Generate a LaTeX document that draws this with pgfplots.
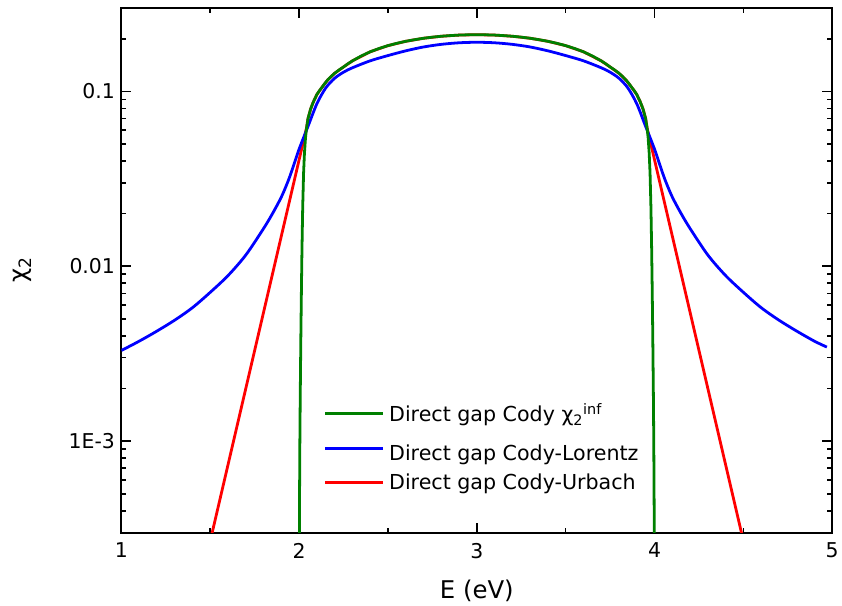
\documentclass[border=0pt]{standalone}
\usepackage{pgfplots}
\usepackage{pgfplotstable}
\pgfplotsset{compat=1.18}
\usepackage{fontspec}
\setmainfont{DejaVu Sans}

\definecolor{codygreen}{RGB}{0,128,0}
\definecolor{lorentzblue}{RGB}{0,0,255}
\definecolor{urbachred}{RGB}{255,0,0}

% Direct gap Cody chi_2 (infinite-lifetime), gap at 2 eV, cut-off at 4 eV
\pgfplotstableread{
E      chi
2.000  1e-6
2.001  0.00020
2.002  0.00042
2.004  0.00095
2.006  0.0017
2.008  0.0027
2.010  0.0042
2.013  0.0075
2.016  0.0125
2.020  0.0215
2.025  0.0340
2.030  0.0445
2.036  0.0545
2.042  0.0620
2.050  0.0700
2.065  0.0795
2.080  0.0870
2.100  0.0960
2.115  0.1012
2.130  0.1060
2.145  0.1112
2.160  0.1160
2.180  0.1217
2.200  0.1270
2.225  0.1327
2.250  0.1380
2.275  0.1440
2.300  0.1495
2.350  0.1595
2.400  0.1685
2.450  0.1760
2.500  0.1827
2.550  0.1884
2.600  0.1934
2.650  0.1976
2.700  0.2013
2.750  0.2043
2.800  0.2067
2.850  0.2085
2.900  0.2099
2.950  0.2107
3.000  0.2110
3.050  0.2107
3.100  0.2099
3.150  0.2085
3.200  0.2067
3.250  0.2043
3.300  0.2013
3.350  0.1976
3.400  0.1934
3.450  0.1884
3.500  0.1827
3.550  0.1760
3.600  0.1685
3.650  0.1595
3.700  0.1495
3.725  0.1440
3.750  0.1380
3.775  0.1327
3.800  0.1270
3.820  0.1217
3.840  0.1160
3.855  0.1112
3.870  0.1060
3.885  0.1012
3.900  0.0960
3.920  0.0870
3.935  0.0795
3.950  0.0700
3.958  0.0620
3.964  0.0545
3.970  0.0445
3.975  0.0340
3.980  0.0215
3.984  0.0125
3.987  0.0075
3.990  0.0042
3.992  0.0027
3.994  0.0017
3.996  0.00095
3.998  0.00042
3.999  0.00020
4.000  1e-6
}\codytable

% Direct gap Cody-Lorentz
\pgfplotstableread{
E      chi
1.00   0.00330
1.10   0.00373
1.20   0.00426
1.30   0.00492
1.40   0.00580
1.50   0.00710
1.60   0.00885
1.70   0.01160
1.80   0.01645
1.85   0.02000
1.90   0.02490
1.94   0.03110
1.97   0.03800
2.00   0.04680
2.05   0.06310
2.10   0.08510
2.15   0.10470
2.20   0.11890
2.25   0.12880
2.30   0.13650
2.40   0.14960
2.50   0.16030
2.60   0.17060
2.70   0.17950
2.80   0.18580
2.90   0.18970
3.00   0.19100
3.10   0.18970
3.20   0.18580
3.30   0.17950
3.40   0.17060
3.50   0.16030
3.60   0.14960
3.70   0.13650
3.75   0.12880
3.80   0.11890
3.85   0.10470
3.90   0.08510
3.95   0.06310
4.00   0.04680
4.03   0.03800
4.06   0.03110
4.10   0.02490
4.15   0.02000
4.20   0.01645
4.30   0.01160
4.40   0.00885
4.50   0.00710
4.60   0.00580
4.70   0.00492
4.80   0.00426
4.90   0.00373
4.97   0.00345
}\lorentztable

% Direct gap Cody-Urbach: exponential tails joined to the Cody curve
\pgfplotstableread{
E      chi
1.450  1.63e-4
2.042  0.0620
2.050  0.0700
2.065  0.0795
2.080  0.0870
2.100  0.0960
2.130  0.1060
2.160  0.1160
2.200  0.1270
2.250  0.1380
2.300  0.1495
2.400  0.1685
2.500  0.1827
2.600  0.1934
2.700  0.2013
2.800  0.2067
2.900  0.2099
3.000  0.2110
3.100  0.2099
3.200  0.2067
3.300  0.2013
3.400  0.1934
3.500  0.1827
3.600  0.1685
3.700  0.1495
3.750  0.1380
3.800  0.1270
3.840  0.1160
3.870  0.1060
3.900  0.0960
3.920  0.0870
3.935  0.0795
3.950  0.0700
3.958  0.0620
4.550  1.63e-4
}\urbachtable

\begin{document}
\begin{tikzpicture}
\begin{axis}[
  scale only axis,
  width=714pt, height=527pt,
  ymode=log,
  xmin=1, xmax=5, ymin=3e-4, ymax=0.3,
  xtick={1,2,3,4,5},
  minor x tick num=1,
  ytick={0.001,0.01,0.1},
  yticklabels={1E-3,0.01,0.1},
  minor ytick={3e-4,4e-4,5e-4,6e-4,7e-4,8e-4,9e-4,
               2e-3,3e-3,4e-3,5e-3,6e-3,7e-3,8e-3,9e-3,
               0.02,0.03,0.04,0.05,0.06,0.07,0.08,0.09,0.2,0.3},
  tick align=inside,
  major tick length=10pt,
  minor tick length=5pt,
  tick style={black, line width=1.6pt},
  axis line style={line width=2pt},
  /pgf/number format/assume math mode=true,
  ticklabel style={font=\fontsize{20.5}{24}\selectfont},
  xticklabel style={yshift=-7pt},
  yticklabel style={xshift=-3pt},
  xlabel={E (eV)},
  ylabel={χ\textsubscript{2}},
  label style={font=\fontsize{24.5}{28}\selectfont},
  xlabel style={at={(axis description cs:0.5,-0.112)}, anchor=center},
  ylabel style={at={(axis description cs:-0.1387,0.5)}, anchor=center},
  legend style={draw=none, fill=none,
    at={(axis description cs:0.28,0.254)}, anchor=north west,
    font=\fontsize{20.7}{24}\selectfont,
    row sep=8pt,
    nodes={inner xsep=5pt}},
  legend cell align=left,
  legend image code/.code={\draw[#1] (0pt,0pt) -- (58pt,0pt);},
  reverse legend,
]
\addplot[urbachred, line width=2.8pt] table[x=E, y=chi] {\urbachtable};
\addlegendentry{Direct gap Cody-Urbach}
\addplot[lorentzblue, line width=2.8pt, smooth] table[x=E, y=chi] {\lorentztable};
\addlegendentry{\rule{0pt}{25pt}Direct gap Cody-Lorentz}
\addplot[codygreen, line width=2.8pt] table[x=E, y=chi] {\codytable};
\addlegendentry{Direct gap Cody χ\textsubscript{2}\textsuperscript{inf}}
\end{axis}
\path ([shift={(-122pt,-72pt)}]current axis.south west)
  rectangle ([shift={(6pt,8pt)}]current axis.north east);
\end{tikzpicture}
\end{document}
